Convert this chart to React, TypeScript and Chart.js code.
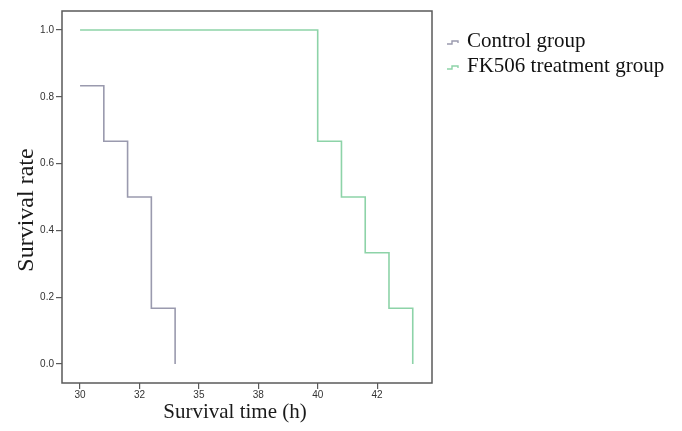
import React, { useEffect, useRef } from "react";
import { Chart, registerables } from "chart.js";

Chart.register(...registerables);

const controlLabel = "Control group";
const controlTimes = [30, 31, 32, 33, 34];
const controlSurvival = [0.833, 0.667, 0.5, 0.167, 0];

const fkLabel = "FK506 treatment group";
const fkTimes = [30, 40, 41, 42, 43, 44];
const fkSurvival = [1, 0.667, 0.5, 0.333, 0.167, 0];

const xTickValues = [30, 32.5, 35, 37.5, 40, 42.5];
const xTickLabels = ["30", "32", "35", "38", "40", "42"];
const yTickValues = [0, 0.2, 0.4, 0.6, 0.8, 1.0];

const xTitle = "Survival time (h)";
const yTitle = "Survival rate";

const controlColor = "#9a9aae";
const fkColor = "#8dd3a8";
const frameColor = "#5a5a5a";

const extrasPlugin = {
  id: "extras",
  afterDraw(chart: any) {
    const { ctx, chartArea } = chart;
    ctx.save();
    // frame
    ctx.strokeStyle = frameColor;
    ctx.lineWidth = 1.5;
    ctx.strokeRect(chartArea.left, chartArea.top, chartArea.right - chartArea.left, chartArea.bottom - chartArea.top);
    // titles
    ctx.fillStyle = "#1a1a1a";
    ctx.font = "21px 'Liberation Serif'";
    ctx.textAlign = "center";
    ctx.textBaseline = "middle";
    ctx.fillText(xTitle, 235, 412);
    ctx.save();
    ctx.translate(27, 210);
    ctx.rotate(-Math.PI / 2);
    ctx.font = "24px 'Liberation Serif'";
    ctx.fillText(yTitle, 0, 0);
    ctx.restore();
    // legend
    const baselines = [47, 72];
    chart.data.datasets.forEach((ds: any, i: number) => {
      const b = baselines[i];
      ctx.strokeStyle = ds.borderColor;
      ctx.lineWidth = 1.4;
      ctx.beginPath();
      ctx.moveTo(447, b - 3);
      ctx.lineTo(452, b - 3);
      ctx.lineTo(452, b - 6);
      ctx.lineTo(458, b - 6);
      ctx.lineTo(458, b - 4);
      ctx.stroke();
      ctx.fillStyle = "#111";
      ctx.font = "21px 'Liberation Serif'";
      ctx.textAlign = "left";
      ctx.textBaseline = "alphabetic";
      ctx.fillText(ds.label, 467, b);
    });
    ctx.restore();
  },
};

export default function App() {
  const ref = useRef<HTMLCanvasElement | null>(null);
  useEffect(() => {
    if (!ref.current) return;
    const chart = new Chart(ref.current, {
      type: "line",
      data: {
        datasets: [
          {
            label: controlLabel,
            data: controlTimes.map((t, i) => ({ x: t, y: controlSurvival[i] })),
            borderColor: controlColor,
            borderWidth: 1.6,
            pointRadius: 0,
            stepped: "before",
            fill: false,
          },
          {
            label: fkLabel,
            data: fkTimes.map((t, i) => ({ x: t, y: fkSurvival[i] })),
            borderColor: fkColor,
            borderWidth: 1.6,
            pointRadius: 0,
            stepped: "before",
            fill: false,
          },
        ],
      },
      options: {
        animation: false,
        responsive: false,
        layout: { padding: { left: 0, right: 250, top: 11, bottom: 0 } },
        plugins: { legend: { display: false }, tooltip: { enabled: false } },
        scales: {
          x: {
            type: "linear",
            min: 29.24,
            max: 44.81,
            afterBuildTicks: (scale: any) => {
              scale.ticks = xTickValues.map((v) => ({ value: v }));
            },
            afterFit: (scale: any) => {
              scale.height = 48;
            },
            ticks: {
              padding: 0,
              color: "#333",
              font: { family: "'Liberation Sans'", size: 10 },
              callback: (_v: any, i: number) => xTickLabels[i],
            },
            grid: { display: true, drawOnChartArea: false, drawTicks: true, tickLength: 6, color: frameColor, lineWidth: 1.2 },
            border: { display: false },
          },
          y: {
            type: "linear",
            min: -0.057,
            max: 1.057,
            afterBuildTicks: (scale: any) => {
              scale.ticks = yTickValues.map((v) => ({ value: v }));
            },
            afterFit: (scale: any) => {
              scale.width = 62;
            },
            ticks: {
              padding: 2,
              color: "#333",
              font: { family: "'Liberation Sans'", size: 10 },
              callback: (v: any) => Number(v).toFixed(1),
            },
            grid: { display: true, drawOnChartArea: false, drawTicks: true, tickLength: 6, color: frameColor, lineWidth: 1.2 },
            border: { display: false },
          },
        },
      },
      plugins: [extrasPlugin],
    });
    return () => chart.destroy();
  }, []);
  return (
    <div style={{ position: "absolute", left: 0, top: 0, width: 682, height: 431, background: "#fff" }}>
      <canvas ref={ref} width={682} height={431} style={{ width: 682, height: 431 }} />
    </div>
  );
}
